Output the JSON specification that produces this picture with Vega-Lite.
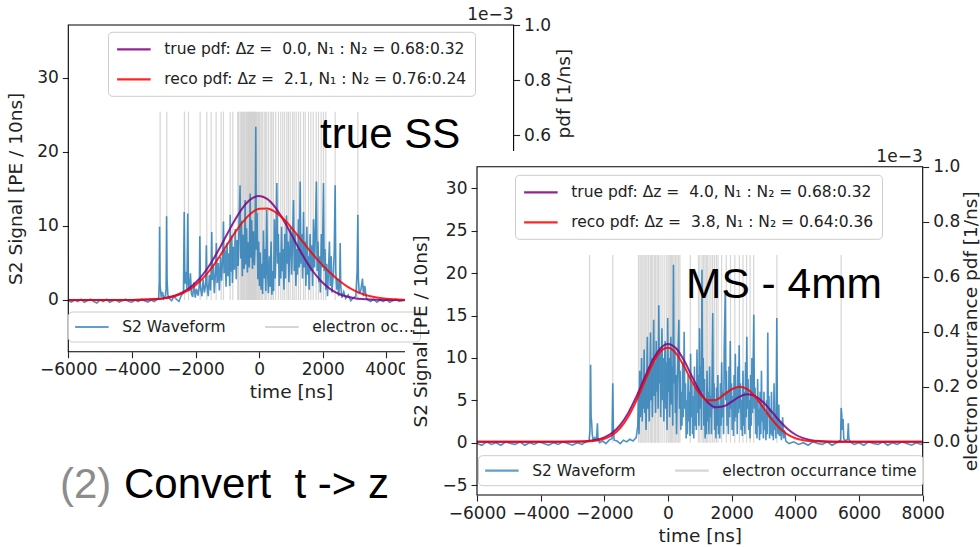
{
"$schema": "https://vega.github.io/schema/vega-lite/v6.json",
"width": 980, "height": 547, "autosize": {"type": "none"}, "padding": 0, "background": "white",
"config": {
  "view": {"stroke": null},
  "axis": {"grid": false, "domain": false, "labelFont": "DejaVu Sans", "labelFontSize": 17, "labelColor": "#222222", "titleFont": "DejaVu Sans", "titleFontSize": 18.5, "titleFontWeight": "normal", "titleColor": "#222222", "tickColor": "#222222", "tickSize": 6, "tickWidth": 1.1, "labelPadding": 4, "labelFlush": false, "labelOverlap": false, "labelBound": false},
  "legend": {"labelFont": "DejaVu Sans", "labelFontSize": 15.5, "labelColor": "#222222", "fillColor": "rgba(255,255,255,0.85)", "strokeColor": "#cccccc", "cornerRadius": 4, "symbolType": "M-1,0H3", "symbolSize": 280.6, "symbolStrokeWidth": 2.2, "labelOffset": 29.2, "labelLimit": 400}
},
"datasets": {
  "wave1": [
    {"t":-6000,"s":-0.1},{"t":-5900,"s":-0.3},{"t":-5800,"s":0.0},{"t":-5700,"s":-0.2},{"t":-5600,"s":0.1},{"t":-5500,"s":-0.3},{"t":-5400,"s":-0.1},{"t":-5300,"s":0.1},{"t":-5200,"s":-0.2},{"t":-5100,"s":-0.4},{"t":-5000,"s":0.0},{"t":-4900,"s":-0.2},{"t":-4800,"s":0.1},{"t":-4700,"s":-0.3},{"t":-4600,"s":-0.1},{"t":-4500,"s":0.0},{"t":-4400,"s":-0.3},{"t":-4300,"s":-0.1},{"t":-4200,"s":0.1},{"t":-4100,"s":-0.2},{"t":-4000,"s":-0.3},{"t":-3900,"s":0.0},{"t":-3800,"s":-0.2},{"t":-3700,"s":0.1},{"t":-3600,"s":-0.1},{"t":-3500,"s":-0.3},{"t":-3400,"s":0.0},{"t":-3300,"s":-0.2},{"t":-3200,"s":0.1},
    {"t":-3160,"s":0.2},{"t":-3140,"s":2.5},{"t":-3130,"s":9.9},{"t":-3115,"s":1.8},{"t":-3100,"s":1.4},{"t":-3075,"s":0.4},{"t":-3040,"s":1.1},{"t":-3000,"s":0.2},{"t":-2950,"s":0.6},{"t":-2925,"s":1.5},{"t":-2910,"s":11.3},{"t":-2895,"s":2.8},{"t":-2870,"s":0.7},{"t":-2820,"s":0.2},{"t":-2750,"s":-0.1},{"t":-2680,"s":0.5},{"t":-2600,"s":0.1},{"t":-2520,"s":-0.2},{"t":-2450,"s":0.6},{"t":-2380,"s":1.0},{"t":-2355,"s":11.9},{"t":-2335,"s":2.2},{"t":-2300,"s":3.8},{"t":-2270,"s":1.5},{"t":-2245,"s":11.7},{"t":-2225,"s":2.6},{"t":-2195,"s":1.2},{"t":-2160,"s":3.6},{"t":-2130,"s":0.9},{"t":-2090,"s":0.4},{"t":-2050,"s":2.4},{"t":-2010,"s":0.3},{"t":-1970,"s":1.5},{"t":-1920,"s":0.6},{"t":-1880,"s":2.0},{"t":-1865,"s":8.6},{"t":-1845,"s":1.8},{"t":-1800,"s":0.5},{"t":-1760,"s":2.8},{"t":-1720,"s":1.0},{"t":-1680,"s":2.2},{"t":-1660,"s":7.4},{"t":-1640,"s":2.0},{"t":-1600,"s":0.5},{"t":-1565,"s":3.4},{"t":-1530,"s":1.3},{"t":-1505,"s":4.5},{"t":-1490,"s":9.2},{"t":-1470,"s":2.7},{"t":-1440,"s":4.8},{"t":-1410,"s":0.9},{"t":-1370,"s":3.9},{"t":-1345,"s":7.7},{"t":-1320,"s":2.3},{"t":-1285,"s":5.0},{"t":-1250,"s":1.3},{"t":-1215,"s":5.8},{"t":-1180,"s":2.6},{"t":-1140,"s":6.5},{"t":-1122,"s":10.6},{"t":-1100,"s":3.6},{"t":-1070,"s":6.8},{"t":-1040,"s":1.8},{"t":-1010,"s":7.7},{"t":-980,"s":3.2},{"t":-950,"s":6.3},{"t":-925,"s":1.9},{"t":-910,"s":11.5},{"t":-890,"s":3.8},{"t":-865,"s":8.7},{"t":-840,"s":2.3},{"t":-810,"s":7.2},{"t":-780,"s":4.1},{"t":-750,"s":9.6},{"t":-720,"s":2.8},{"t":-690,"s":8.1},{"t":-660,"s":4.6},{"t":-630,"s":10.2},{"t":-600,"s":15.5},{"t":-580,"s":5.6},{"t":-555,"s":10.7},{"t":-530,"s":3.2},{"t":-500,"s":8.8},{"t":-470,"s":4.2},{"t":-440,"s":13.5},{"t":-420,"s":4.8},{"t":-395,"s":9.7},{"t":-370,"s":3.7},{"t":-340,"s":7.8},{"t":-310,"s":4.4},{"t":-283,"s":14.4},{"t":-260,"s":5.7},{"t":-235,"s":10.8},{"t":-210,"s":4.2},{"t":-180,"s":9.3},{"t":-150,"s":4.7},{"t":-125,"s":8.0},{"t":-105,"s":23.4},{"t":-90,"s":6.8},{"t":-65,"s":11.8},{"t":-40,"s":2.8},{"t":-15,"s":7.9},{"t":10,"s":1.9},{"t":35,"s":6.4},{"t":60,"s":1.4},{"t":85,"s":4.9},{"t":110,"s":0.8},{"t":135,"s":9.4},{"t":160,"s":2.9},{"t":185,"s":6.9},{"t":210,"s":1.2},{"t":240,"s":12.2},{"t":265,"s":3.9},{"t":290,"s":0.9},{"t":320,"s":5.9},{"t":345,"s":1.8},{"t":375,"s":7.9},{"t":400,"s":0.7},{"t":430,"s":3.9},{"t":455,"s":1.2},{"t":480,"s":10.9},{"t":505,"s":2.9},{"t":530,"s":7.4},{"t":556,"s":15.8},{"t":580,"s":4.9},{"t":605,"s":8.9},{"t":630,"s":1.9},{"t":655,"s":6.4},{"t":680,"s":2.9},{"t":705,"s":9.9},{"t":730,"s":3.9},{"t":755,"s":6.9},{"t":780,"s":1.4},{"t":805,"s":8.9},{"t":830,"s":2.9},{"t":860,"s":11.4},{"t":885,"s":4.9},{"t":910,"s":7.9},{"t":935,"s":2.4},{"t":960,"s":6.4},{"t":990,"s":9.9},{"t":1020,"s":3.4},{"t":1050,"s":7.9},{"t":1080,"s":13.5},{"t":1105,"s":3.9},{"t":1130,"s":8.9},{"t":1155,"s":1.9},{"t":1180,"s":6.9},{"t":1205,"s":3.4},{"t":1235,"s":10.9},{"t":1260,"s":4.4},{"t":1290,"s":16.0},{"t":1315,"s":4.9},{"t":1340,"s":8.9},{"t":1365,"s":2.9},{"t":1395,"s":11.9},{"t":1420,"s":4.4},{"t":1445,"s":7.9},{"t":1470,"s":1.9},{"t":1500,"s":9.9},{"t":1525,"s":3.4},{"t":1550,"s":5.9},{"t":1575,"s":1.4},{"t":1600,"s":8.9},{"t":1625,"s":3.9},{"t":1655,"s":7.4},{"t":1680,"s":1.9},{"t":1710,"s":10.9},{"t":1740,"s":4.4},{"t":1770,"s":9.4},{"t":1800,"s":16.0},{"t":1825,"s":3.9},{"t":1850,"s":7.9},{"t":1875,"s":2.4},{"t":1900,"s":5.9},{"t":1925,"s":1.0},{"t":1955,"s":8.9},{"t":1985,"s":4.4},{"t":2023,"s":15.8},{"t":2045,"s":3.9},{"t":2070,"s":6.9},{"t":2095,"s":1.4},{"t":2125,"s":4.9},{"t":2150,"s":0.5},{"t":2180,"s":3.9},{"t":2210,"s":7.9},{"t":2235,"s":1.9},{"t":2265,"s":5.9},{"t":2290,"s":1.0},{"t":2330,"s":3.4},{"t":2360,"s":6.4},{"t":2390,"s":15.5},{"t":2410,"s":3.9},{"t":2440,"s":1.4},{"t":2470,"s":2.9},{"t":2500,"s":0.5},{"t":2530,"s":2.4},{"t":2547,"s":7.7},{"t":2565,"s":1.9},{"t":2600,"s":0.3},{"t":2660,"s":1.1},{"t":2720,"s":0.2},{"t":2800,"s":0.7},{"t":2880,"s":-0.1},{"t":2960,"s":0.3},{"t":3040,"s":0.5},{"t":3080,"s":3.9},{"t":3103,"s":11.5},{"t":3120,"s":2.9},{"t":3150,"s":0.8},{"t":3200,"s":1.4},{"t":3250,"s":2.9},{"t":3280,"s":0.5},{"t":3320,"s":1.9},{"t":3370,"s":0.3},{"t":3420,"s":0.0},{"t":3500,"s":-0.2},{"t":3600,"s":0.1},{"t":3700,"s":-0.3},{"t":3800,"s":0.0},{"t":3900,"s":-0.2},{"t":4000,"s":0.1},{"t":4100,"s":-0.3},{"t":4200,"s":-0.1},{"t":4300,"s":0.1},{"t":4400,"s":-0.2},{"t":4500,"s":-0.1},{"t":4700,"s":0.0},{"t":5000,"s":-0.2},{"t":5500,"s":0.0},{"t":6000,"s":-0.2},{"t":6500,"s":0.0},{"t":7000,"s":-0.2},{"t":7500,"s":0.0},{"t":8000,"s":-0.1}
  ],
  "elec1": [
    {"t":-3113},{"t":-2904},{"t":-2348},{"t":-2222},{"t":-1855},{"t":-1646},{"t":-1509},{"t":-1352},{"t":-1195},{"t":-1122},{"t":-912},{"t":-828},{"t":-671},{"t":-650},{"t":-597},{"t":-560},{"t":-535},{"t":-500},{"t":-472},{"t":-440},{"t":-409},{"t":-380},{"t":-356},{"t":-330},{"t":-304},{"t":-270},{"t":-241},{"t":-210},{"t":-178},{"t":-150},{"t":-126},{"t":-100},{"t":-73},{"t":-40},{"t":-10},{"t":20},{"t":63},{"t":100},{"t":157},{"t":200},{"t":241},{"t":300},{"t":367},{"t":400},{"t":451},{"t":520},{"t":608},{"t":680},{"t":744},{"t":800},{"t":870},{"t":920},{"t":975},{"t":1048},{"t":1100},{"t":1164},{"t":1237},{"t":1300},{"t":1394},{"t":1450},{"t":1551},{"t":1625},{"t":1700},{"t":1792},{"t":1866},{"t":1950},{"t":2023},{"t":2096},{"t":2390},{"t":3103}
  ],
  "pdf1true": [
    {"t":-6000,"p":0},{"t":-4500,"p":0.00004},{"t":-4000,"p":0.0003},{"t":-3500,"p":0.0015},{"t":-3250,"p":0.0033},{"t":-3000,"p":0.0066},{"t":-2750,"p":0.0127},{"t":-2500,"p":0.0228},{"t":-2250,"p":0.0389},{"t":-2000,"p":0.0627},{"t":-1750,"p":0.0955},{"t":-1500,"p":0.1376},{"t":-1250,"p":0.1873},{"t":-1000,"p":0.2412},{"t":-750,"p":0.2936},{"t":-500,"p":0.3379},{"t":-250,"p":0.3675},{"t":0,"p":0.378},{"t":250,"p":0.3675},{"t":500,"p":0.3379},{"t":750,"p":0.2936},{"t":1000,"p":0.2412},{"t":1250,"p":0.1873},{"t":1500,"p":0.1376},{"t":1750,"p":0.0955},{"t":2000,"p":0.0627},{"t":2250,"p":0.0389},{"t":2500,"p":0.0228},{"t":2750,"p":0.0127},{"t":3000,"p":0.0066},{"t":3250,"p":0.0033},{"t":3500,"p":0.0015},{"t":4000,"p":0.0003},{"t":4500,"p":0.00004},{"t":8000,"p":0}
  ],
  "pdf1reco": [
    {"t":-6000,"p":0},{"t":-4500,"p":0.00004},{"t":-4000,"p":0.0003},{"t":-3500,"p":0.0014},{"t":-3250,"p":0.0030},{"t":-3000,"p":0.0059},{"t":-2750,"p":0.0112},{"t":-2500,"p":0.0200},{"t":-2250,"p":0.0337},{"t":-2000,"p":0.0538},{"t":-1750,"p":0.0812},{"t":-1500,"p":0.1162},{"t":-1250,"p":0.1575},{"t":-1000,"p":0.2025},{"t":-750,"p":0.2469},{"t":-500,"p":0.2862},{"t":-250,"p":0.3156},{"t":0,"p":0.3317},{"t":250,"p":0.3330},{"t":500,"p":0.3205},{"t":750,"p":0.2970},{"t":1000,"p":0.2650},{"t":1250,"p":0.2290},{"t":1500,"p":0.1930},{"t":1750,"p":0.1580},{"t":2000,"p":0.1260},{"t":2250,"p":0.0970},{"t":2500,"p":0.0715},{"t":2750,"p":0.0505},{"t":3000,"p":0.0340},{"t":3250,"p":0.0220},{"t":3500,"p":0.0135},{"t":3750,"p":0.0080},{"t":4000,"p":0.0045},{"t":4500,"p":0.0012},{"t":5000,"p":0.0003},{"t":8000,"p":0}
  ],
  "wave2": [
    {"t":-6000,"s":-0.1},{"t":-5850,"s":-0.3},{"t":-5700,"s":0.1},{"t":-5550,"s":-0.2},{"t":-5400,"s":0.0},{"t":-5250,"s":-0.3},{"t":-5100,"s":0.1},{"t":-4950,"s":-0.1},{"t":-4800,"s":-0.2},{"t":-4650,"s":0.1},{"t":-4500,"s":-0.3},{"t":-4350,"s":0.0},{"t":-4200,"s":-0.2},{"t":-4050,"s":0.1},{"t":-3900,"s":-0.1},{"t":-3750,"s":-0.3},{"t":-3600,"s":0.0},{"t":-3450,"s":-0.2},{"t":-3300,"s":0.1},{"t":-3150,"s":-0.1},{"t":-3000,"s":-0.3},{"t":-2850,"s":0.0},{"t":-2700,"s":-0.2},{"t":-2580,"s":0.1},
    {"t":-2480,"s":0.2},{"t":-2450,"s":1.5},{"t":-2431,"s":9.2},{"t":-2415,"s":3.0},{"t":-2400,"s":2.5},{"t":-2380,"s":1.0},{"t":-2350,"s":0.3},{"t":-2300,"s":0.6},{"t":-2250,"s":0.2},{"t":-2217,"s":2.3},{"t":-2200,"s":0.4},{"t":-2150,"s":0.0},{"t":-2050,"s":0.2},{"t":-1950,"s":-0.1},{"t":-1850,"s":0.3},{"t":-1760,"s":0.5},{"t":-1735,"s":7.0},{"t":-1715,"s":1.5},{"t":-1690,"s":0.3},{"t":-1600,"s":0.2},{"t":-1500,"s":-0.1},{"t":-1400,"s":0.3},{"t":-1300,"s":0.1},{"t":-1200,"s":0.4},{"t":-1100,"s":0.2},{"t":-1000,"s":0.6},
    {"t":-950,"s":2.0},{"t":-930,"s":6.0},{"t":-910,"s":1.0},{"t":-890,"s":8.5},{"t":-870,"s":3.0},{"t":-850,"s":5.5},{"t":-830,"s":10.0},{"t":-810,"s":2.5},{"t":-790,"s":7.0},{"t":-770,"s":4.0},{"t":-750,"s":11.0},{"t":-730,"s":3.5},{"t":-710,"s":8.0},{"t":-690,"s":1.5},{"t":-670,"s":6.5},{"t":-650,"s":12.5},{"t":-630,"s":4.0},{"t":-610,"s":9.0},{"t":-590,"s":2.5},{"t":-570,"s":7.5},{"t":-550,"s":13.0},{"t":-530,"s":5.0},{"t":-510,"s":10.0},{"t":-490,"s":3.0},{"t":-470,"s":8.0},{"t":-450,"s":14.5},{"t":-430,"s":5.5},{"t":-410,"s":9.5},{"t":-390,"s":3.5},{"t":-370,"s":12.0},{"t":-350,"s":6.0},{"t":-330,"s":10.5},{"t":-310,"s":4.0},{"t":-290,"s":16.2},{"t":-270,"s":7.0},{"t":-250,"s":11.0},{"t":-230,"s":3.0},{"t":-210,"s":9.0},{"t":-190,"s":13.5},{"t":-170,"s":5.0},{"t":-150,"s":10.0},{"t":-130,"s":2.5},{"t":-110,"s":8.5},{"t":-90,"s":12.0},{"t":-70,"s":4.0},{"t":-50,"s":9.5},{"t":-30,"s":1.5},{"t":-10,"s":14.7},{"t":10,"s":6.0},{"t":30,"s":10.0},{"t":50,"s":3.0},{"t":70,"s":8.0},{"t":90,"s":12.5},{"t":110,"s":4.5},{"t":130,"s":9.0},{"t":150,"s":2.0},{"t":171,"s":21.0},{"t":190,"s":7.0},{"t":210,"s":11.0},{"t":230,"s":3.5},{"t":250,"s":8.0},{"t":270,"s":1.0},{"t":290,"s":6.5},{"t":310,"s":10.0},{"t":341,"s":14.5},{"t":360,"s":4.0},{"t":380,"s":8.5},{"t":400,"s":1.5},{"t":420,"s":6.0},{"t":440,"s":2.0},{"t":460,"s":9.5},{"t":480,"s":3.0},{"t":507,"s":13.1},{"t":530,"s":4.0},{"t":550,"s":7.0},{"t":570,"s":0.5},{"t":590,"s":5.0},{"t":610,"s":1.0},{"t":630,"s":8.0},{"t":650,"s":2.5},{"t":670,"s":6.0},{"t":690,"s":0.8},{"t":710,"s":10.5},{"t":730,"s":3.0},{"t":750,"s":7.0},{"t":770,"s":1.0},{"t":790,"s":5.5},{"t":810,"s":0.5},{"t":830,"s":9.0},{"t":850,"s":2.0},{"t":870,"s":6.5},{"t":890,"s":1.5},{"t":910,"s":11.0},{"t":930,"s":3.5},{"t":950,"s":8.0},{"t":970,"s":2.0},{"t":990,"s":13.5},{"t":1010,"s":4.0},{"t":1030,"s":9.0},{"t":1050,"s":1.5},{"t":1066,"s":20.4},{"t":1085,"s":6.0},{"t":1105,"s":10.0},{"t":1125,"s":2.0},{"t":1145,"s":7.5},{"t":1165,"s":0.5},{"t":1185,"s":5.0},{"t":1205,"s":1.0},{"t":1225,"s":8.5},{"t":1245,"s":2.5},{"t":1265,"s":6.0},{"t":1285,"s":1.0},{"t":1305,"s":9.0},{"t":1325,"s":3.0},{"t":1345,"s":5.5},{"t":1365,"s":1.0},{"t":1405,"s":15.3},{"t":1425,"s":4.0},{"t":1445,"s":7.0},{"t":1465,"s":1.5},{"t":1485,"s":5.0},{"t":1505,"s":0.5},{"t":1525,"s":6.5},{"t":1545,"s":2.0},{"t":1565,"s":8.0},{"t":1585,"s":1.0},{"t":1605,"s":4.5},{"t":1625,"s":0.5},{"t":1645,"s":7.0},{"t":1665,"s":2.0},{"t":1685,"s":9.5},{"t":1705,"s":3.0},{"t":1725,"s":6.0},{"t":1745,"s":1.0},{"t":1765,"s":11.0},{"t":1797,"s":17.6},{"t":1815,"s":5.0},{"t":1835,"s":8.5},{"t":1855,"s":2.0},{"t":1875,"s":6.0},{"t":1895,"s":1.0},{"t":1915,"s":9.0},{"t":1935,"s":3.0},{"t":1955,"s":12.0},{"t":1975,"s":4.0},{"t":1995,"s":7.0},{"t":2015,"s":1.5},{"t":2035,"s":5.5},{"t":2055,"s":0.8},{"t":2075,"s":8.0},{"t":2095,"s":2.5},{"t":2115,"s":10.5},{"t":2135,"s":3.0},{"t":2155,"s":6.5},{"t":2175,"s":1.0},{"t":2195,"s":9.0},{"t":2215,"s":3.5},{"t":2235,"s":11.5},{"t":2255,"s":4.0},{"t":2275,"s":7.0},{"t":2295,"s":1.5},{"t":2315,"s":5.0},{"t":2335,"s":0.8},{"t":2355,"s":8.5},{"t":2375,"s":2.0},{"t":2395,"s":6.0},{"t":2415,"s":1.0},{"t":2435,"s":9.5},{"t":2455,"s":3.0},{"t":2475,"s":12.5},{"t":2495,"s":4.0},{"t":2515,"s":7.5},{"t":2535,"s":1.5},{"t":2555,"s":5.0},{"t":2575,"s":0.5},{"t":2595,"s":8.0},{"t":2615,"s":2.0},{"t":2635,"s":10.0},{"t":2655,"s":3.5},{"t":2695,"s":15.1},{"t":2715,"s":4.0},{"t":2735,"s":6.5},{"t":2755,"s":1.0},{"t":2775,"s":5.0},{"t":2795,"s":0.5},{"t":2815,"s":7.5},{"t":2835,"s":2.0},{"t":2855,"s":4.0},{"t":2875,"s":0.3},{"t":2895,"s":6.0},{"t":2915,"s":1.0},{"t":2935,"s":8.5},{"t":2955,"s":2.5},{"t":2975,"s":4.5},{"t":2995,"s":0.5},{"t":3015,"s":6.0},{"t":3035,"s":1.5},{"t":3055,"s":3.5},{"t":3075,"s":0.3},{"t":3095,"s":5.0},{"t":3115,"s":1.0},{"t":3134,"s":13.0},{"t":3150,"s":3.0},{"t":3170,"s":5.5},{"t":3190,"s":0.5},{"t":3210,"s":4.0},{"t":3230,"s":1.0},{"t":3250,"s":6.0},{"t":3270,"s":0.8},{"t":3290,"s":3.0},{"t":3310,"s":0.3},{"t":3330,"s":7.0},{"t":3350,"s":1.5},{"t":3370,"s":3.5},{"t":3390,"s":0.5},{"t":3417,"s":14.7},{"t":3435,"s":3.0},{"t":3455,"s":1.0},{"t":3480,"s":4.5},{"t":3500,"s":0.8},{"t":3530,"s":2.5},{"t":3560,"s":0.3},{"t":3600,"s":3.0},{"t":3630,"s":0.5},{"t":3660,"s":1.5},{"t":3700,"s":0.2},
    {"t":3800,"s":-0.1},{"t":3950,"s":0.1},{"t":4100,"s":-0.2},{"t":4250,"s":0.0},{"t":4400,"s":-0.3},{"t":4550,"s":0.1},{"t":4700,"s":-0.1},{"t":4850,"s":-0.2},{"t":5000,"s":0.1},{"t":5150,"s":-0.3},{"t":5300,"s":0.0},{"t":5420,"s":0.3},{"t":5439,"s":4.1},{"t":5455,"s":3.5},{"t":5475,"s":1.5},{"t":5500,"s":2.8},{"t":5520,"s":0.5},{"t":5560,"s":0.2},{"t":5640,"s":0.4},{"t":5663,"s":2.3},{"t":5680,"s":0.5},{"t":5720,"s":0.1},{"t":5850,"s":-0.2},{"t":6000,"s":0.0},{"t":6150,"s":-0.3},{"t":6300,"s":0.1},{"t":6450,"s":-0.1},{"t":6600,"s":-0.2},{"t":6750,"s":0.1},{"t":6900,"s":-0.3},{"t":7050,"s":0.0},{"t":7200,"s":-0.2},{"t":7350,"s":0.1},{"t":7500,"s":-0.1},{"t":7650,"s":-0.3},{"t":7800,"s":0.0},{"t":7950,"s":-0.2},{"t":8000,"s":-0.1}
  ],
  "elec2": [
    {"t":-2465},{"t":-1735},{"t":-928},{"t":-880},{"t":-839},{"t":-790},{"t":-749},{"t":-700},{"t":-659},{"t":-610},{"t":-558},{"t":-520},{"t":-479},{"t":-430},{"t":-389},{"t":-340},{"t":-300},{"t":-250},{"t":-188},{"t":-120},{"t":-53},{"t":0},{"t":37},{"t":80},{"t":115},{"t":150},{"t":194},{"t":240},{"t":283},{"t":330},{"t":373},{"t":700},{"t":956},{"t":1000},{"t":1067},{"t":1110},{"t":1157},{"t":1200},{"t":1235},{"t":1290},{"t":1347},{"t":1400},{"t":1459},{"t":1520},{"t":1571},{"t":1683},{"t":1829},{"t":1963},{"t":2098},{"t":2243},{"t":2355},{"t":2467},{"t":2579},{"t":2691},{"t":3420},{"t":5439}
  ],
  "pdf2true": [
    {"t":-6000,"p":0},{"t":-3500,"p":0.00003},{"t":-3000,"p":0.0003},{"t":-2750,"p":0.001},{"t":-2500,"p":0.0027},{"t":-2250,"p":0.0068},{"t":-2000,"p":0.0156},{"t":-1750,"p":0.0324},{"t":-1500,"p":0.0612},{"t":-1250,"p":0.1047},{"t":-1000,"p":0.1625},{"t":-750,"p":0.2288},{"t":-500,"p":0.2920},{"t":-250,"p":0.3381},{"t":0,"p":0.3555},{"t":250,"p":0.3396},{"t":500,"p":0.2961},{"t":750,"p":0.2383},{"t":1000,"p":0.1826},{"t":1250,"p":0.1425},{"t":1500,"p":0.1250},{"t":1750,"p":0.1286},{"t":2000,"p":0.1455},{"t":2250,"p":0.1637},{"t":2500,"p":0.1723},{"t":2750,"p":0.1651},{"t":3000,"p":0.1423},{"t":3250,"p":0.1101},{"t":3500,"p":0.0762},{"t":3750,"p":0.0473},{"t":4000,"p":0.0262},{"t":4250,"p":0.0130},{"t":4500,"p":0.0058},{"t":4750,"p":0.0023},{"t":5000,"p":0.0008},{"t":5500,"p":0.0001},{"t":8000,"p":0}
  ],
  "pdf2reco": [
    {"t":-6000,"p":0},{"t":-3000,"p":0.0001},{"t":-2750,"p":0.0005},{"t":-2500,"p":0.0015},{"t":-2250,"p":0.0043},{"t":-2000,"p":0.0108},{"t":-1750,"p":0.0245},{"t":-1500,"p":0.0499},{"t":-1250,"p":0.0907},{"t":-1000,"p":0.1475},{"t":-750,"p":0.2147},{"t":-500,"p":0.2797},{"t":-250,"p":0.3265},{"t":0,"p":0.3415},{"t":250,"p":0.3214},{"t":500,"p":0.2749},{"t":750,"p":0.2194},{"t":1000,"p":0.1738},{"t":1250,"p":0.1505},{"t":1500,"p":0.1520},{"t":1750,"p":0.1701},{"t":2000,"p":0.1907},{"t":2250,"p":0.2001},{"t":2500,"p":0.1902},{"t":2750,"p":0.1617},{"t":3000,"p":0.1227},{"t":3250,"p":0.0828},{"t":3500,"p":0.0497},{"t":3750,"p":0.0265},{"t":4000,"p":0.0126},{"t":4250,"p":0.0053},{"t":4500,"p":0.0020},{"t":4750,"p":0.0007},{"t":5000,"p":0.0002},{"t":8000,"p":0}
  ]
},
"layer": [
  {
    "layer": [
      {
        "layer": [
          {
            "data": {"name": "elec1"},
            "mark": {"type": "rule", "strokeWidth": 1.2, "opacity": 0.7},
            "encoding": {
              "x": {"field": "t", "type": "quantitative"},
              "y": {"datum": 0, "type": "quantitative"},
              "y2": {"datum": 25.45},
              "color": {"datum": "electron occurrance time", "type": "nominal"}
            }
          },
          {
            "data": {"name": "wave1"},
            "mark": {"type": "line", "strokeWidth": 1.6, "opacity": 0.8},
            "encoding": {
              "x": {"field": "t", "type": "quantitative", "scale": {"domain": [-6000, 8000], "range": [68.3, 513.6], "nice": false, "zero": false}, "axis": {"orient": "bottom", "offset": -195.3, "values": [-6000, -4000, -2000, 0, 2000, 4000], "format": "d", "title": "time [ns]", "titlePadding": 5, "zindex": 0}},
              "y": {"field": "s", "type": "quantitative", "scale": {"domain": [-6.99, 37.16], "range": [351.7, 25], "nice": false, "zero": false}, "axis": {"orient": "left", "offset": -68.3, "values": [0, 10, 20, 30], "format": "d", "title": "S2 Signal [PE / 10ns]", "titlePadding": 11, "zindex": 0}},
              "color": {"datum": "S2 Waveform", "type": "nominal", "scale": {"domain": ["S2 Waveform", "electron occurrance time"], "range": ["#1f77b4", "#c4c4c4"]}, "legend": {"title": null, "orient": "none", "legendX": 68, "legendY": 311.5, "direction": "horizontal", "columns": 2, "columnPadding": 34, "padding": 6, "labelLimit": 106}}
            }
          },
          {
            "data": {"values": [{}]},
            "mark": {"type": "text", "text": "true SS", "align": "left", "baseline": "alphabetic", "font": "Liberation Sans", "fontSize": 42, "color": "black"},
            "encoding": {"x": {"datum": 1917}, "y": {"datum": 20.58}}
          },
          {
            "data": {"values": [{}]},
            "mark": {"type": "text", "text": "(2)", "align": "left", "baseline": "alphabetic", "font": "Liberation Sans", "fontSize": 42, "color": "#8c8c8c"},
            "encoding": {"x": {"datum": -6261}, "y": {"datum": -26.8}}
          },
          {
            "data": {"values": [{}]},
            "mark": {"type": "text", "text": "Convert\u00a0 t -> z", "align": "left", "baseline": "alphabetic", "font": "Liberation Sans", "fontSize": 42, "color": "black"},
            "encoding": {"x": {"datum": -4249}, "y": {"datum": -26.8}}
          }
        ]
      },
      {
        "layer": [
          {
            "data": {"name": "pdf1true"},
            "mark": {"type": "line", "strokeWidth": 2, "opacity": 0.85, "interpolate": "monotone"},
            "encoding": {
              "x": {"field": "t", "type": "quantitative"},
              "y": {"field": "p", "type": "quantitative", "scale": {"domain": [-0.188, 1.0], "range": [351.7, 25], "nice": false, "zero": false}, "axis": {"orient": "right", "offset": -466.4, "values": [0.6, 0.8, 1.0], "format": ".1f", "title": "electron occurrance pdf [1/ns]", "titleAngle": 270, "titleBaseline": "top", "titlePadding": 4, "zindex": 0}},
              "stroke": {"datum": "true pdf: Δz =\u00a0 0.0, N₁ : N₂ = 0.68:0.32", "type": "nominal", "scale": {"domain": ["true pdf: Δz =\u00a0 0.0, N₁ : N₂ = 0.68:0.32", "reco pdf: Δz =\u00a0 2.1, N₁ : N₂ = 0.76:0.24"], "range": ["purple", "red"]}, "legend": {"title": null, "orient": "none", "legendX": 108, "legendY": 31.8, "direction": "vertical", "rowPadding": 12, "padding": 8}}
            }
          },
          {
            "data": {"name": "pdf1reco"},
            "mark": {"type": "line", "strokeWidth": 2, "opacity": 0.85, "interpolate": "monotone"},
            "encoding": {
              "x": {"field": "t", "type": "quantitative"},
              "y": {"field": "p", "type": "quantitative"},
              "stroke": {"datum": "reco pdf: Δz =\u00a0 2.1, N₁ : N₂ = 0.76:0.24", "type": "nominal"}
            }
          },
          {
            "data": {"values": [{}]},
            "mark": {"type": "rect", "filled": false, "stroke": "black", "strokeWidth": 1.1},
            "encoding": {"x": {"datum": -6000}, "x2": {"datum": 8000}, "y": {"datum": -0.188}, "y2": {"datum": 1.0}}
          },
          {
            "data": {"values": [{}]},
            "mark": {"type": "text", "text": "1e−3", "align": "right", "baseline": "alphabetic", "dy": -5, "font": "DejaVu Sans", "fontSize": 17, "color": "#222222"},
            "encoding": {"x": {"datum": 8000}, "y": {"datum": 1.0}}
          }
        ]
      }
    ],
    "resolve": {"scale": {"y": "independent"}, "axis": {"y": "independent"}}
  },
  {
    "layer": [
      {
        "layer": [
          {
            "data": {"values": [{}]},
            "mark": {"type": "rect", "color": "white", "opacity": 1},
            "encoding": {"x": {"datum": -8262}, "x2": {"datum": -4649}, "y": {"datum": -13}, "y2": {"datum": 34.41}}
          },
          {
            "data": {"values": [{}]},
            "mark": {"type": "rect", "color": "white", "opacity": 1},
            "encoding": {"x": {"datum": -4649}, "x2": {"datum": 10500}, "y": {"datum": -13}, "y2": {"datum": 35.54}}
          },
          {
            "data": {"name": "elec2"},
            "mark": {"type": "rule", "strokeWidth": 1.2, "opacity": 0.7},
            "encoding": {
              "x": {"field": "t", "type": "quantitative"},
              "y": {"datum": 0, "type": "quantitative"},
              "y2": {"datum": 22.14},
              "color": {"datum": "electron occurrance time", "type": "nominal"}
            }
          },
          {
            "data": {"name": "wave2"},
            "mark": {"type": "line", "strokeWidth": 1.6, "opacity": 0.8},
            "encoding": {
              "x": {"field": "t", "type": "quantitative", "scale": {"domain": [-6000, 8000], "range": [477, 922.7], "nice": false, "zero": false}, "axis": {"orient": "bottom", "offset": -52, "values": [-6000, -4000, -2000, 0, 2000, 4000, 6000, 8000], "format": "d", "title": "time [ns]", "titlePadding": 5, "zindex": 1}},
              "y": {"field": "s", "type": "quantitative", "scale": {"domain": [-6.17, 32.56], "range": [495, 166.7], "nice": false, "zero": false}, "axis": {"orient": "left", "offset": -477, "values": [-5, 0, 5, 10, 15, 20, 25, 30], "format": "d", "title": "S2 Signal [PE / 10ns]", "titlePadding": 11, "zindex": 1}},
              "color": {"datum": "S2 Waveform", "type": "nominal", "scale": {"domain": ["S2 Waveform", "electron occurrance time"], "range": ["#1f77b4", "#c4c4c4"]}, "legend": {"title": null, "orient": "none", "legendX": 478, "legendY": 455.2, "direction": "horizontal", "columns": 2, "columnPadding": 34, "padding": 6}}
            }
          },
          {
            "data": {"values": [{}]},
            "mark": {"type": "text", "text": "MS - 4mm", "align": "left", "baseline": "alphabetic", "font": "Liberation Sans", "fontSize": 42.5, "color": "black"},
            "encoding": {"x": {"datum": 565}, "y": {"datum": 17.03}}
          }
        ]
      },
      {
        "layer": [
          {
            "data": {"name": "pdf2true"},
            "mark": {"type": "line", "strokeWidth": 2, "opacity": 0.85, "interpolate": "monotone"},
            "encoding": {
              "x": {"field": "t", "type": "quantitative"},
              "y": {"field": "p", "type": "quantitative", "scale": {"domain": [-0.1938, 1.0], "range": [495, 166.7], "nice": false, "zero": false}, "axis": {"orient": "right", "offset": -57.3, "values": [0, 0.2, 0.4, 0.6, 0.8, 1.0], "format": ".1f", "title": "electron occurrance pdf [1/ns]", "titleAngle": 270, "titleBaseline": "top", "titlePadding": 2, "zindex": 1}},
              "stroke": {"datum": "true pdf: Δz =\u00a0 4.0, N₁ : N₂ = 0.68:0.32", "type": "nominal", "scale": {"domain": ["true pdf: Δz =\u00a0 4.0, N₁ : N₂ = 0.68:0.32", "reco pdf: Δz =\u00a0 3.8, N₁ : N₂ = 0.64:0.36"], "range": ["purple", "red"]}, "legend": {"title": null, "orient": "none", "legendX": 515, "legendY": 174.8, "direction": "vertical", "rowPadding": 12, "padding": 8}}
            }
          },
          {
            "data": {"name": "pdf2reco"},
            "mark": {"type": "line", "strokeWidth": 2, "opacity": 0.85, "interpolate": "monotone"},
            "encoding": {
              "x": {"field": "t", "type": "quantitative"},
              "y": {"field": "p", "type": "quantitative"},
              "stroke": {"datum": "reco pdf: Δz =\u00a0 3.8, N₁ : N₂ = 0.64:0.36", "type": "nominal"}
            }
          },
          {
            "data": {"values": [{}]},
            "mark": {"type": "rect", "filled": false, "stroke": "black", "strokeWidth": 1.1},
            "encoding": {"x": {"datum": -6000}, "x2": {"datum": 8000}, "y": {"datum": -0.1938}, "y2": {"datum": 1.0}}
          },
          {
            "data": {"values": [{}]},
            "mark": {"type": "text", "text": "1e−3", "align": "right", "baseline": "alphabetic", "dy": -5, "font": "DejaVu Sans", "fontSize": 17, "color": "#222222"},
            "encoding": {"x": {"datum": 8000}, "y": {"datum": 1.0}}
          }
        ]
      }
    ],
    "resolve": {"scale": {"y": "independent"}, "axis": {"y": "independent"}}
  }
],
"resolve": {
  "scale": {"x": "independent", "y": "independent", "color": "independent", "stroke": "independent"},
  "axis": {"x": "independent", "y": "independent"},
  "legend": {"color": "independent", "stroke": "independent"}
}
}
